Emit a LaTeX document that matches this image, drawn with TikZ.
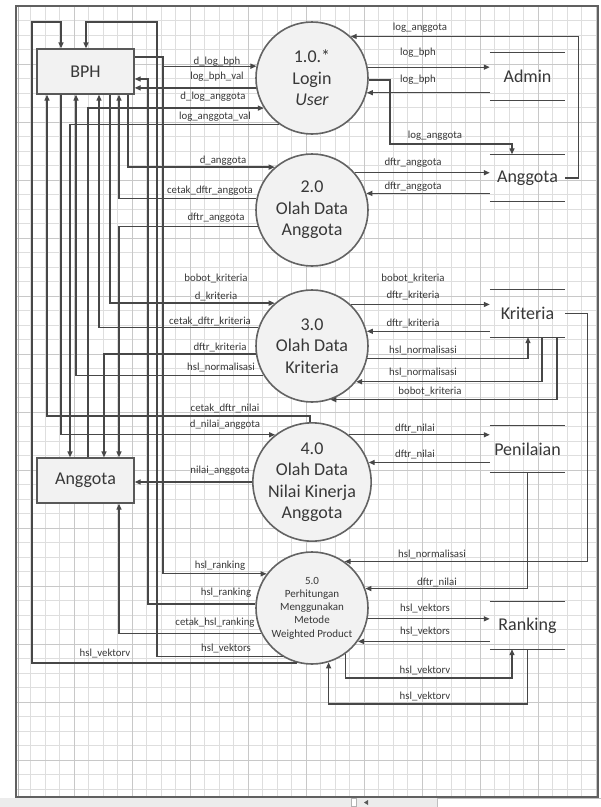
\documentclass[tikz,border=0pt]{standalone}
\usepackage{fontspec}
\setmainfont{Carlito}
\usetikzlibrary{arrows.meta,calc}
\definecolor{ln}{HTML}{474747}
\definecolor{gridc}{HTML}{DEDEDE}
\definecolor{gridm}{HTML}{C8C8C8}
\definecolor{fillc}{HTML}{F2F2F2}
\definecolor{txt}{HTML}{383838}
\tikzset{
  flow/.style={draw=ln, line width=1.3pt, -{Triangle[length=6pt,width=5pt]}},
  wire/.style={draw=ln, line width=1.3pt},
  proc/.style={circle, draw=ln!85, line width=1.6pt, fill=fillc, minimum size=112pt, inner sep=0pt, align=center, text=txt, font=\fontsize{18}{21.5}\selectfont},
  ent/.style={rectangle, draw=ln!90, line width=1.3pt, fill=fillc, minimum width=97pt, minimum height=45pt, inner sep=0pt, font=\fontsize{18}{21}\selectfont, text=txt},
  store/.style={minimum width=75pt, minimum height=47pt, inner sep=0pt, font=\fontsize{18}{21}\selectfont, text=txt},
  lab/.style={font=\fontsize{10.8}{12}\selectfont, text=txt, inner sep=0pt},
}
\begin{document}
\begin{tikzpicture}[x=1pt,y=-1pt]
\useasboundingbox (0,0) rectangle (601,807);
\fill[white] (0,0) rectangle (601,807);
% grid
\foreach \i in {1,...,40} \draw[gridc, line width=0.6pt] ({16+14.5*\i},6) -- ({16+14.5*\i},797);
\foreach \j in {1,...,54} \draw[gridc, line width=0.6pt] (16,{6+14.5*\j}) -- (598,{6+14.5*\j});
\foreach \i in {4,8,...,40} \draw[gridm, line width=0.8pt] ({16+14.5*\i},6) -- ({16+14.5*\i},797);
\foreach \j in {4,8,...,52} \draw[gridm, line width=0.8pt] (16,{6+14.5*\j}) -- (598,{6+14.5*\j});
% frame
\draw[gray!75!black, line width=1.2pt] (16,6) rectangle (598,797);
\draw[gray!60, line width=1pt] (18.5,7) -- (18.5,796);
% status bar
\fill[gray!15] (0,797.6) rectangle (601,807);
\draw[gray!50, fill=white, line width=0.6pt] (437,798.5) rectangle (601,807);
\draw[gray!60, fill=white, line width=0.6pt] (351,798.5) rectangle (356.5,806);
\fill[gray!70!black] (368,800) -- (364,802.5) -- (368,805) -- cycle;

% external entities
\node[ent] (bph) at (85.5,71.5) {BPH};
\node[ent] (ang) at (85.5,480.5) {Anggota};
% processes
\node[proc] (c1) at (312,78) {1.0.*\\Login\\\textit{User}};
\node[proc] (c2) at (312,210) {2.0\\Olah Data\\Anggota};
\node[proc] (c3) at (312,346) {3.0\\Olah Data\\Kriteria};
\node[proc] (c4) at (312,482) {4.0\\Olah Data\\Nilai Kinerja\\Anggota};
\node[proc, font=\fontsize{11}{13.3}\selectfont] (c5) at (312,608) {5.0\\Perhitungan\\Menggunakan\\Metode\\Weighted Product};
% data stores
\node[store] (sad) at (527.5,76.5) {Admin};
\node[store] (sag) at (527.5,178) {Anggota};
\node[store] (skr) at (527.5,313.5) {Kriteria};
\node[store] (spn) at (527.5,449) {Penilaian};
\node[store] (srk) at (527.5,625.5) {Ranking};
\foreach \s in {sad,sag,skr,spn,srk} {
  \draw[wire] (\s.north west) -- (\s.north east);
  \draw[wire] (\s.south west) -- (\s.south east);
}

% ---- left side flows
\coordinate (j1) at (163,57);
\draw[flow] (c5.255) -| (32,22) -| (bph.north -| 61,0);
\draw[flow] (c5.239) -| (157,22) -| (bph.north -| 86,0);
\draw[flow] (c5.176) -| (148,79) -- (bph.east |- 0,79);
\draw[flow] (bph.east |- j1) -- (j1) |- (c5.143);
\draw[flow] (j1) |- (c1.168);
\draw[flow] (c1.190) -- (c1.190 -| bph.east);
\draw[flow] (ang.north -| 88,0) |- (c1.212);
\draw[flow] (c1.235) -| (ang.north -| 70,0);
\draw[flow] (bph.south -| 128,0) |- (c2.131);
\draw[flow] (c2.168) -| (bph.south -| 119,0);
\draw[flow] (c2.197) -| (ang.north -| 119,0);
\draw[flow] (bph.south -| 110,0) |- (c3.131);
\draw[flow] (c3.161) -| (bph.south -| 99,0);
\draw[flow] (c3.188) -| (ang.north -| 104,0);
\draw[flow] (c3.211) -| (bph.south -| 76,0);
\draw[flow] (c4.92) |- (47,416) -- (bph.south -| 47,0);
\draw[flow] (bph.south -| 61,0) |- (c4.128);
\draw[flow] (c4.180) -- (c4.180 -| ang.east);
\draw[flow] (c5.207) -| (ang.south -| 119,0);

% ---- right side flows
\draw[flow] (sag.east) -- ++(13,0) |- (c1.47);
\draw[flow] (c1.11) -- (c1.11 -| sad.west);
\draw[flow] (sad.west |- c1.-15) -- (c1.-15);
\draw[flow] (c1.-2) -| (390,144) -| (sag.north -| 512,0);
\draw[flow] (c2.41) -- (c2.41 -| sag.west);
\draw[flow] (sag.west |- c2.17) -- (c2.17);
\draw[flow] (c3.47) -- (c3.47 -| skr.west);
\draw[flow] (skr.west |- c3.15) -- (c3.15);
\draw[flow] (c3.-13) -| (skr.south -| 528,0);
\draw[flow] (skr.south -| 542,0) |- (c3.-39);
\draw[flow] (skr.south -| 557,0) |- (c3.-71);
\draw[flow] (c4.52) -- (c4.52 -| spn.west);
\draw[flow] (spn.west |- c4.19) -- (c4.19);
\draw[flow] (skr.east) -- ++(22,0) |- (c5.55);
\draw[flow] (spn.south) |- (c5.20);
\draw[flow] (c5.-11) -- (c5.-11 -| srk.west);
\draw[flow] (srk.west |- c5.-36) -- (c5.-36);
\draw[flow] (c5.-54) |- (512,678) -- (srk.south -| 512,0);
\draw[flow] (srk.south) |- (c5.-73 |- 0,704) -- (c5.-73);

% ---- labels left
\node[lab] (t1) at (217,62) {d\_log\_bph};
\node[lab] (t2) at (217,77) {log\_bph\_val};
\node[lab] (t3) at (213,97) {d\_log\_anggota};
\node[lab] (t4) at (215,117) {log\_anggota\_val};
\node[lab] (t5) at (223,161) {d\_anggota};
\node[lab] (t6) at (210,191) {cetak\_dftr\_anggota};
\node[lab] (t7) at (216,218) {dftr\_anggota};
\node[lab] (t8) at (216,278) {bobot\_kriteria};
\node[lab] (t9) at (216,296) {d\_kriteria};
\node[lab] (t10) at (210,321) {cetak\_dftr\_kriteria};
\node[lab] (t11) at (220,347) {dftr\_kriteria};
\node[lab] (t12) at (221,367) {hsl\_normalisasi};
\node[lab] (t13) at (225,408) {cetak\_dftr\_nilai};
\node[lab] (t14) at (225,425) {d\_nilai\_anggota};
\node[lab] (t15) at (220,471) {nilai\_anggota};
\node[lab] (t16) at (220,566) {hsl\_ranking};
\node[lab] (t17) at (226,593) {hsl\_ranking};
\node[lab] (t18) at (215,623) {cetak\_hsl\_ranking};
\node[lab] (t19) at (226,648) {hsl\_vektors};
\node[lab] (t20) at (105,653) {hsl\_vektorv};
% ---- labels right
\node[lab] (r1) at (420,28) {log\_anggota};
\node[lab] (r2) at (418,53) {log\_bph};
\node[lab] (r3) at (418,80) {log\_bph};
\node[lab] (r4) at (435,136) {log\_anggota};
\node[lab] (r5) at (413,163) {dftr\_anggota};
\node[lab] (r6) at (413,187) {dftr\_anggota};
\node[lab] (r7) at (413,278) {bobot\_kriteria};
\node[lab] (r8) at (413,295) {dftr\_kriteria};
\node[lab] (r9) at (413,323) {dftr\_kriteria};
\node[lab] (r10) at (423,350) {hsl\_normalisasi};
\node[lab] (r11) at (423,372) {hsl\_normalisasi};
\node[lab] (r12) at (430,391) {bobot\_kriteria};
\node[lab] (r13) at (415,428) {dftr\_nilai};
\node[lab] (r14) at (415,454) {dftr\_nilai};
\node[lab] (r15) at (432,554) {hsl\_normalisasi};
\node[lab] (r16) at (437,582) {dftr\_nilai};
\node[lab] (r17) at (425,608) {hsl\_vektors};
\node[lab] (r18) at (425,631) {hsl\_vektors};
\node[lab] (r19) at (425,670) {hsl\_vektorv};
\node[lab] (r20) at (425,696) {hsl\_vektorv};
\end{tikzpicture}
\end{document}
